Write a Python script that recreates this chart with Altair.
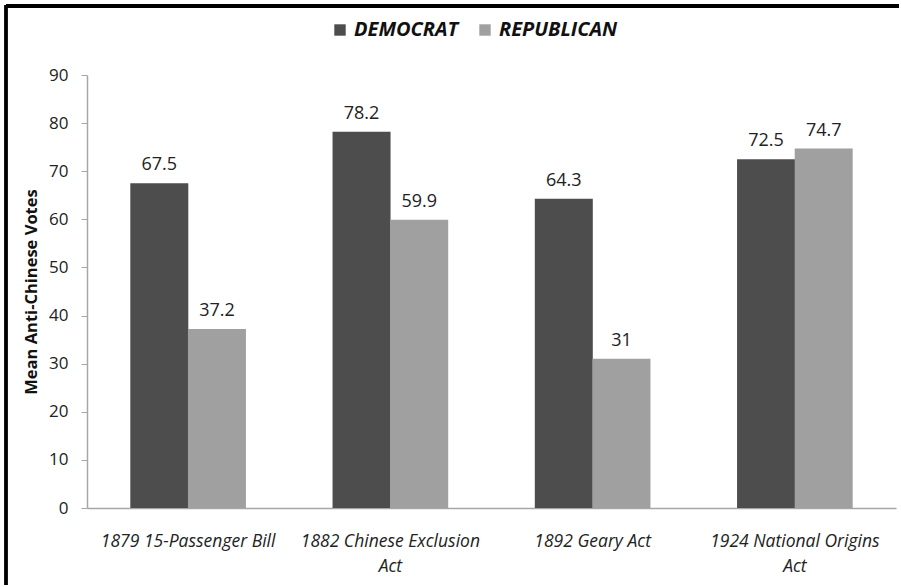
import altair as alt
import pandas as pd

# Mean anti-Chinese votes by party for four immigration measures
acts = [
    "1879 15-Passenger Bill",
    "1882 Chinese Exclusion Act",
    "1892 Geary Act",
    "1924 National Origins Act",
]
democrat = [67.5, 78.2, 64.3, 72.5]
republican = [37.2, 59.9, 31, 74.7]
parties = ["DEMOCRAT", "REPUBLICAN"]
y_ticks = [0, 10, 20, 30, 40, 50, 60, 70, 80, 90]

rows = []
for act, d, r in zip(acts, democrat, republican):
    rows.append({"act": act, "party": parties[0], "votes": d})
    rows.append({"act": act, "party": parties[1], "votes": r})
df = pd.DataFrame(rows)

W, H = 809, 433
FONT = "Open Sans"

x_enc = alt.X(
    "act:N",
    sort=acts,
    scale=alt.Scale(paddingInner=0.43, paddingOuter=0.215),
    axis=alt.Axis(
        title=None,
        labelAngle=0,
        labelFont=FONT,
        labelFontStyle="italic",
        labelFontSize=17.5,
        labelColor="#222222",
        labelPadding=24,
        labelLineHeight=25,
        labelBaseline="top",
        labelExpr="(indexof(datum.label, 'Exclusion') >= 0 || indexof(datum.label, 'Origins') >= 0) ? [replace(datum.label, ' Act', ''), 'Act'] : datum.label",
        ticks=False,
        domainColor="#a6a6a6",
        domainWidth=1.5,
    ),
)

y_enc = alt.Y(
    "votes:Q",
    scale=alt.Scale(domain=[0, 90], nice=False),
    axis=alt.Axis(
        title="Mean Anti-Chinese Votes",
        titleFont=FONT,
        titleFontSize=16.5,
        titleFontWeight="bold",
        titleColor="#111111",
        titlePadding=9,
        values=y_ticks,
        labelFont=FONT,
        labelFontSize=17,
        labelColor="#222222",
        labelPadding=13,
        grid=False,
        tickColor="#a6a6a6",
        tickSize=6,
        domainColor="#a6a6a6",
        domainWidth=1.5,
    ),
)

color_enc = alt.Color(
    "party:N",
    scale=alt.Scale(domain=parties, range=["#4d4d4d", "#a0a0a0"]),
    legend=alt.Legend(
        title=None,
        orient="none",
        direction="horizontal",
        legendX=243,
        legendY=-55,
        symbolType="square",
        symbolSize=130,
        symbolStrokeWidth=0,
        labelFont=FONT,
        labelFontSize=20,
        labelFontWeight="bold",
        labelFontStyle="italic",
        labelColor="#111111",
        columnPadding=16,
        labelOffset=4,
        labelLimit=300,
    ),
)

bars = alt.Chart(df).mark_bar(size=58).encode(
    x=x_enc,
    xOffset=alt.XOffset("party:N", sort=parties),
    y=y_enc,
    color=color_enc,
)

labels = alt.Chart(df).mark_text(
    baseline="alphabetic", dy=-13, font=FONT, fontSize=18, color="#222222"
).encode(
    x=alt.X("act:N", sort=acts),
    xOffset=alt.XOffset("party:N", sort=parties),
    y="votes:Q",
    text=alt.Text("votes:Q"),
)

# frame lines along the top and left edges
frame_top = alt.Chart(df).mark_rule(color="black", strokeWidth=3).encode(
    x=alt.value(-81), x2=alt.value(812), y=alt.value(-69)
)
frame_left = alt.Chart(df).mark_rule(color="black", strokeWidth=2.5).encode(
    x=alt.value(-81), y=alt.value(-70), y2=alt.value(510)
)

chart = (
    alt.layer(bars, labels, frame_top, frame_left)
    .properties(
        width=W,
        height=H,
        background="white",
        autosize=alt.AutoSizeParams(type="none"),
        padding={"left": 87, "top": 75, "right": 3, "bottom": 77},
    )
    .configure_view(strokeWidth=0, stroke="transparent")
)

chart.save("out.html", embed_options={"renderer": "svg", "actions": False})
